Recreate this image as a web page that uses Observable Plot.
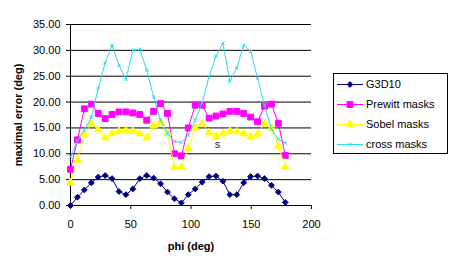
<!DOCTYPE html>
<html>
<head>
<meta charset="utf-8">
<script src="https://cdn.jsdelivr.net/npm/d3@7"></script>
<script src="https://cdn.jsdelivr.net/npm/@observablehq/plot@0.6"></script>
<style>
  html, body { margin: 0; padding: 0; background: #fff; }
  #chart svg { display: block; }
  #chart g[aria-label="x-axis label"] text,
  #chart g[aria-label="y-axis label"] text { font-weight: bold; }
</style>
</head>
<body>
<div id="chart"></div>
<script>
// Orientation angle of the sampled edges (deg)
const phi = [0, 5.75, 11.5, 17.25, 23, 28.75, 34.5, 40.25, 46, 51.75, 57.5, 63.25,
  69, 74.75, 80.5, 86.25, 92, 97.75, 103.5, 109.25, 115, 120.75, 126.5, 132.25,
  138, 143.75, 149.5, 155.25, 161, 166.75, 172.5, 178.25];

// Maximal angular error (deg) per operator
const g3d10 = [0.0, 1.6, 3.0, 4.4, 5.5, 5.8, 5.2, 2.7, 2.1, 3.2, 5.2, 5.8, 5.3, 4.2, 2.6, 1.3,
  0.5, 2.1, 3.2, 4.5, 5.6, 5.7, 4.7, 2.1, 2.1, 4.4, 5.6, 5.7, 5.2, 3.9, 2.6, 0.6];
const prewitt = [7.0, 12.7, 18.7, 19.6, 17.8, 16.8, 17.6, 18.1, 18.1, 17.9, 17.6, 16.5, 18.2, 19.7, 17.8, 10.0,
  9.6, 15.0, 19.4, 19.4, 16.9, 17.3, 17.7, 18.2, 18.2, 17.8, 17.1, 16.2, 19.2, 19.6, 15.9, 9.7];
const sobel = [4.4, 8.8, 13.6, 15.8, 14.7, 13.1, 13.9, 14.4, 14.5, 14.4, 13.9, 13.1, 15.4, 16.0, 14.0, 7.4,
  7.4, 11.0, 15.0, 15.8, 14.1, 13.4, 13.9, 14.4, 14.3, 13.9, 13.3, 13.8, 15.8, 15.0, 11.5, 7.4];
const cross = [9.4, 12.6, 14.5, 17.1, 22.6, 27.6, 31.0, 27.1, 24.4, 30.0, 30.2, 26.2, 21.0, 16.5, 13.9, 12.4,
  12.2, 13.6, 16.5, 19.8, 24.9, 28.9, 31.4, 24.0, 26.6, 31.0, 29.8, 24.6, 19.4, 14.8, 12.8, 12.1];

const seriesNames = ["G3D10", "Prewitt masks", "Sobel masks", "cross masks"];
const seriesValues = [g3d10, prewitt, sobel, cross];
const seriesColors = ["#000080", "#ff00ff", "#ffff00", "#30d8ec"];
const seriesSymbols = ["diamond2", "square", "triangle", "times"];
const seriesRadius = [2.6, 3.3, 2.8, 1.8];

const xTicks = [0, 50, 100, 150, 200];
const yTicks = [0, 5, 10, 15, 20, 25, 30, 35];
const notes = [{phi: 122, err: 11.8, text: "s"}];

const rows = seriesNames.map((name, s) =>
  phi.map((p, i) => ({series: name, phi: p, err: seriesValues[s][i]})));

const seriesMarks = rows.flatMap((data, s) => {
  const filled = seriesSymbols[s] !== "times";
  return [
    Plot.line(data, {x: "phi", y: "err", stroke: seriesColors[s], strokeWidth: 1}),
    Plot.dot(data, {
      x: "phi", y: "err", symbol: seriesSymbols[s], r: seriesRadius[s],
      fill: filled ? seriesColors[s] : "none", stroke: seriesColors[s], strokeWidth: 1
    })
  ];
});

const chart = Plot.plot({
  width: 455,
  height: 259,
  marginLeft: 70,
  marginRight: 144,
  marginTop: 24,
  marginBottom: 54,
  style: {fontFamily: "'Liberation Sans', Arial, sans-serif", fontSize: "11px", background: "#fff", color: "#000"},
  x: {domain: [0, 200]},
  y: {domain: [0, 35]},
  marks: [
    Plot.ruleY(yTicks.filter(d => d > 0), {stroke: "#000", strokeWidth: 1}),
    Plot.ruleX([0], {stroke: "#000", strokeWidth: 1}),
    Plot.ruleY([0], {stroke: "#000", strokeWidth: 1}),
    Plot.axisY({
      ticks: yTicks, tickFormat: d => d.toFixed(2), tickSize: 4, tickPadding: 6,
      label: "maximal error (deg)", labelAnchor: "center", labelArrow: "none", labelOffset: 56
    }),
    Plot.axisX({
      ticks: xTicks, tickSize: 4, tickPadding: 11,
      label: "phi (deg)", labelAnchor: "center", labelArrow: "none", labelOffset: 44
    }),
    ...seriesMarks,
    Plot.text(notes, {x: "phi", y: "err", text: "text", fill: "#222", fontSize: 11})
  ]
});

document.getElementById("chart").appendChild(chart);

// Legend box on the right of the plot area
const svg = d3.select(chart);
const lg = svg.append("g").attr("class", "legend").attr("text-anchor", "start");
lg.append("rect")
  .attr("x", 333.5).attr("y", 73.5).attr("width", 114).attr("height", 80)
  .attr("fill", "#fff").attr("stroke", "#000").attr("stroke-width", 1);
const symbolTypes = {
  diamond2: d3.symbolDiamond2, square: d3.symbolSquare,
  triangle: d3.symbolTriangle, times: d3.symbolTimes
};
seriesNames.forEach((name, s) => {
  const cy = 84.5 + s * 20;
  const item = lg.append("g");
  item.append("line")
    .attr("x1", 337).attr("x2", 363).attr("y1", cy).attr("y2", cy)
    .attr("stroke", seriesColors[s]).attr("stroke-width", 1);
  const filled = seriesSymbols[s] !== "times";
  item.append("path")
    .attr("transform", `translate(350,${cy})`)
    .attr("d", d3.symbol(symbolTypes[seriesSymbols[s]], Math.PI * seriesRadius[s] ** 2)())
    .attr("fill", filled ? seriesColors[s] : "none")
    .attr("stroke", seriesColors[s]).attr("stroke-width", 1);
  item.append("text")
    .attr("x", 366).attr("y", cy).attr("dy", "0.35em")
    .attr("text-anchor", "start")
    .attr("font-size", 11).attr("fill", "#000")
    .text(name);
});
</script>
</body>
</html>
